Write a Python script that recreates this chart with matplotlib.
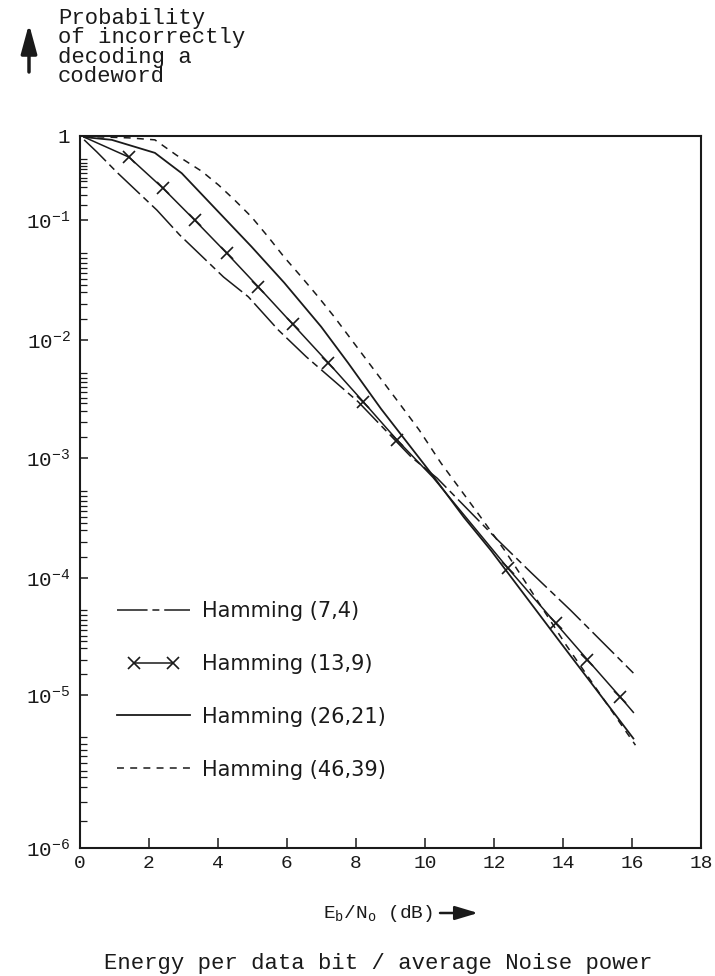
import numpy as np
import matplotlib
matplotlib.use("Agg")
import matplotlib.pyplot as plt
from matplotlib.ticker import FixedLocator, FixedFormatter, NullFormatter
from matplotlib.legend_handler import HandlerLine2D

plt.rcParams['mathtext.fontset'] = 'custom'
plt.rcParams['mathtext.rm'] = 'Liberation Mono'
plt.rcParams['mathtext.it'] = 'Liberation Mono'
plt.rcParams['lines.scale_dashes'] = False

# ---------------- data ----------------
x_74 = [0.12, 0.49, 1.07, 2.23, 2.89, 4.16, 4.88, 5.75, 6.56, 8.06, 9.60, 10.35, 12.11, 13.06, 14.22, 16.04]
y_74 = [0.90, 0.645, 0.37, 0.131, 0.075, 0.0335, 0.0229, 0.0121, 0.0072, 0.0030, 0.00102, 6.8e-4,
        2.07e-4, 1.12e-4, 5.3e-5, 1.54e-5]

x_139 = [0.12, 1.42, 2.40, 3.32, 4.25, 5.17, 6.16, 7.20, 8.21, 9.19, 10.23, 12.40, 13.79, 14.71, 15.66, 16.04]
y_139 = [0.97, 0.56, 0.24, 0.10, 0.053, 0.0277, 0.0136, 0.0064, 0.0030, 0.00142, 6.9e-4,
         1.21e-4, 4.1e-5, 2.0e-5, 9.7e-6, 7.7e-6]
marks_139 = [1, 2, 3, 4, 5, 6, 7, 8, 9, 11, 12, 13, 14]

x_2621 = [0.12, 0.92, 2.17, 2.95, 4.02, 4.97, 5.92, 6.99, 7.77, 8.73, 10.17, 11.13, 11.91, 13.93, 16.04]
y_2621 = [0.97, 0.90, 0.63, 0.36, 0.124, 0.060, 0.030, 0.0129, 0.0064, 0.0026, 7.5e-4, 3.2e-4,
          1.7e-4, 2.8e-5, 5.2e-6]

x_4639 = [0.12, 1.42, 2.17, 2.80, 3.53, 4.02, 4.48, 4.97, 5.46, 5.92, 6.42, 6.91, 7.37, 8.24, 9.22,
          9.83, 10.46, 11.04, 11.62, 12.34, 13.06, 14.08, 16.10]
y_4639 = [0.99, 0.95, 0.90, 0.59, 0.38, 0.26, 0.173, 0.109, 0.072, 0.049, 0.0335, 0.0228, 0.0156,
          0.0072, 0.0030, 0.00173, 9.1e-4, 5.4e-4, 3.2e-4, 1.65e-4, 7.9e-5, 2.7e-5, 4.7e-6]

labels = ["Hamming (7,4)", "Hamming (13,9)", "Hamming (26,21)", "Hamming (46,39)"]
x_ticks = [0, 2, 4, 6, 8, 10, 12, 14, 16, 18]
y_exponents = [-6, -5, -4, -3, -2, -1, 0]
y_ticklabels = ['$10^{-6}$', '$10^{-5}$', '$10^{-4}$', '$10^{-3}$', '$10^{-2}$', '$10^{-1}$', '1']
minor_mult = [1.5, 2.0, 2.5, 2.9, 3.2, 3.6, 4.0, 4.4, 4.8, 5.3]

# hand-drawn log axis: position of each decade (relative units)
DEC_LOG = np.array([-6, -5, -4, -3, -2, -1, 0], float)
DEC_POS = np.array([0, 153, 270, 390, 508, 628, 712], float)


def fwd(v):
    v = np.asarray(v, float)
    lg = np.log10(np.where(v > 0, v, 1e-300))
    return np.interp(lg, DEC_LOG, DEC_POS)


def inv(p):
    p = np.asarray(p, float)
    return 10.0 ** np.interp(p, DEC_POS, DEC_LOG)


W, H = 715, 976
fig = plt.figure(figsize=(W / 100, H / 100), dpi=100)
ax = fig.add_axes([80 / W, 1 - 848 / H, 621 / W, 712 / H])
ax.set_yscale('function', functions=(fwd, inv))

ink = '#1a1a1a'
lw = 1.1
l74, = ax.plot(x_74, y_74, color=ink, lw=lw, dashes=(22, 3.5, 5, 3.5))
l139, = ax.plot(x_139, y_139, color=ink, lw=lw, marker='x', markersize=8, mew=1.2,
                markevery=marks_139)
l2621, = ax.plot(x_2621, y_2621, color=ink, lw=lw + 0.2)
l4639, = ax.plot(x_4639, y_4639, color=ink, lw=lw, dashes=(5, 4.5))

ax.set_xlim(0, 18)
ax.set_ylim(1e-6, 1)

ax.xaxis.set_major_locator(FixedLocator(x_ticks))
ax.set_xticklabels([str(t) for t in x_ticks])
ax.yaxis.set_major_locator(FixedLocator([10.0 ** e for e in y_exponents]))
ax.yaxis.set_major_formatter(FixedFormatter(y_ticklabels))
minors = [m * 10.0 ** e for e in y_exponents[:-1] for m in minor_mult]
ax.yaxis.set_minor_locator(FixedLocator(minors))
ax.yaxis.set_minor_formatter(NullFormatter())

ax.tick_params(axis='x', which='major', direction='in', length=7, width=1.1, color=ink,
               labelsize=14, pad=5, top=False)
ax.tick_params(axis='y', which='major', direction='in', length=6, width=1.1, color=ink,
               labelsize=15, pad=7, right=False)
ax.tick_params(axis='y', which='minor', direction='in', length=5, width=0.9, color=ink, right=False)
for lab in ax.get_xticklabels() + ax.get_yticklabels():
    lab.set_family('Liberation Mono')
    lab.set_color(ink)
for s in ax.spines.values():
    s.set_linewidth(1.5)
    s.set_color(ink)

leg = ax.legend([l74, l139, l2621, l4639], labels, loc='upper left',
                bbox_to_anchor=(0.0596, 0.347), borderaxespad=0, borderpad=0,
                frameon=False, handlelength=3.5, handletextpad=0.6, labelspacing=1.58,
                prop={'family': 'DejaVu Sans', 'size': 15},
                handler_map={l139: HandlerLine2D(numpoints=2, marker_pad=0.8)})
for t in leg.get_texts():
    t.set_color(ink)

# y label block (top left)
fig.text(58 / W, 1 - 8 / H, "Probability\nof incorrectly\ndecoding a\ncodeword",
         family='Liberation Mono', size=16, va='top', ha='left', linespacing=0.9, color=ink)
ax.annotate('', xy=(29 / W, 1 - 24 / H), xytext=(29 / W, 1 - 72 / H),
            xycoords='figure fraction', textcoords='figure fraction', annotation_clip=False,
            arrowprops=dict(arrowstyle='-|>,head_length=1.1,head_width=0.3', lw=2.5,
                            color=ink, mutation_scale=16, shrinkA=0, shrinkB=0))

# x label
fig.text(378 / W, 1 - 913 / H, r"E$_\mathrm{b}$/N$_\mathrm{o}$ (dB)", family='Liberation Mono',
         size=14, ha='center', va='center', color=ink)
ax.annotate('', xy=(478 / W, 1 - 913 / H), xytext=(440 / W, 1 - 913 / H),
            xycoords='figure fraction', textcoords='figure fraction', annotation_clip=False,
            arrowprops=dict(arrowstyle='-|>,head_length=1.0,head_width=0.3', lw=1.8,
                            color=ink, mutation_scale=14, shrinkA=0, shrinkB=0))
fig.text(378 / W, 1 - 963 / H, "Energy per data bit / average Noise power",
         family='Liberation Mono', size=16, ha='center', va='center', color=ink)

fig.savefig('out.png', dpi=100)
